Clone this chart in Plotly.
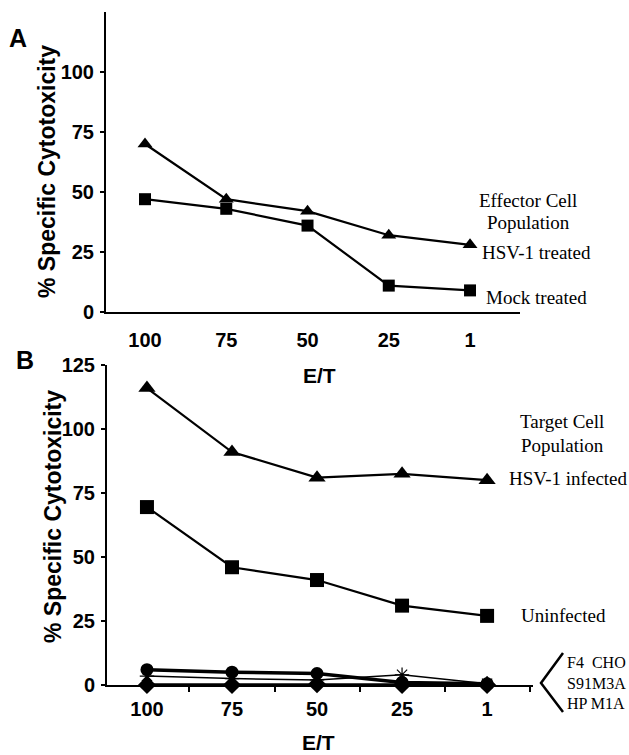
import plotly.graph_objects as go

W, H = 629, 755

et_labels = ["100", "75", "50", "25", "1"]

# Panel A: effector cell population
a_hsv_treated = [70, 47, 42, 32, 28]
a_mock_treated = [47, 43, 36, 11, 9]

# Panel B: target cell population
b_hsv_infected = [116, 91, 81, 82.5, 80]
b_uninfected = [69.5, 46, 41, 31, 27]
b_f4_cho = [6, 5, 4.5, 1, 0.5]
b_s91m3a = [3.5, 2.5, 2, 4, 0.5]
b_hp_m1a = [0, 0, 0.3, 0, 0]

a_yticks = [0, 25, 50, 75, 100]
b_yticks = [0, 25, 50, 75, 100, 125]


def px(x):
    return x / W


def py(y):
    return 1 - y / H


fig = go.Figure()

line_style = dict(color="black", width=2.2)

fig.add_trace(go.Scatter(x=et_labels, y=a_hsv_treated, mode="lines+markers",
                         line=line_style, cliponaxis=False,
                         marker=dict(symbol="triangle-up", size=13, color="black"),
                         xaxis="x", yaxis="y", showlegend=False))
fig.add_trace(go.Scatter(x=et_labels, y=a_mock_treated, mode="lines+markers",
                         line=line_style, cliponaxis=False,
                         marker=dict(symbol="square", size=12, color="black"),
                         xaxis="x", yaxis="y", showlegend=False))

fig.add_trace(go.Scatter(x=et_labels, y=b_hsv_infected, mode="lines+markers",
                         line=line_style, cliponaxis=False,
                         marker=dict(symbol="triangle-up", size=15, color="black"),
                         xaxis="x2", yaxis="y2", showlegend=False))
fig.add_trace(go.Scatter(x=et_labels, y=b_uninfected, mode="lines+markers",
                         line=line_style, cliponaxis=False,
                         marker=dict(symbol="square", size=14, color="black"),
                         xaxis="x2", yaxis="y2", showlegend=False))
fig.add_trace(go.Scatter(x=et_labels, y=b_f4_cho, mode="lines+markers",
                         line=dict(color="black", width=3.5), cliponaxis=False,
                         marker=dict(symbol="circle", size=13, color="black"),
                         xaxis="x2", yaxis="y2", showlegend=False))
fig.add_trace(go.Scatter(x=et_labels, y=b_s91m3a, mode="lines+markers",
                         line=dict(color="black", width=1.5), cliponaxis=False,
                         marker=dict(symbol="asterisk-open", size=12,
                                     line=dict(color="black", width=1.2)),
                         xaxis="x2", yaxis="y2", showlegend=False))
fig.add_trace(go.Scatter(x=et_labels, y=b_hp_m1a, mode="lines+markers",
                         line=dict(color="black", width=3.5), cliponaxis=False,
                         marker=dict(symbol="diamond", size=14, color="black"),
                         xaxis="x2", yaxis="y2", showlegend=False))

tick_font = dict(family="Liberation Sans, Arial", size=20, color="black", weight="bold")
title_font = dict(family="Liberation Sans, Arial", size=23, color="black", weight="bold")
et_font = dict(family="Liberation Sans, Arial", size=21, color="black", weight="bold")
serif = dict(family="Liberation Serif, Times New Roman", size=19, color="black")
small_serif = dict(family="Liberation Serif, Times New Roman", size=16, color="black")

common = dict(showline=True, linecolor="black", linewidth=2, showgrid=False,
              zeroline=False, automargin=False, fixedrange=True)

fig.update_layout(
    template="none",
    width=W, height=H, autosize=False,
    margin=dict(l=0, r=0, t=0, b=0, pad=0),
    paper_bgcolor="white", plot_bgcolor="white",
    xaxis=dict(domain=[px(106), px(520)], anchor="y", type="category",
               categoryorder="array", categoryarray=et_labels,
               range=[-0.48, 4.615], ticks="", tickfont=tick_font,
               ticklabelstandoff=9, **common),
    yaxis=dict(domain=[py(312), py(12)], anchor="x", range=[0, 125],
               tickvals=a_yticks, ticks="outside", ticklen=4,
               tickwidth=1.5, tickcolor="black", tickfont=tick_font,
               ticklabelstandoff=2, **common),
    xaxis2=dict(domain=[px(107), px(533)], anchor="y2", type="category",
                categoryorder="array", categoryarray=et_labels,
                range=[-0.47, 4.54], ticks="outside", ticklen=5,
                tickwidth=1.5, tickcolor="black", tickson="boundaries",
                tickfont=tick_font, ticklabelstandoff=5, **common),
    yaxis2=dict(domain=[py(685), py(365)], anchor="x2", range=[0, 125],
                tickvals=b_yticks, ticks="outside", ticklen=4,
                tickwidth=1.5, tickcolor="black", tickfont=tick_font,
                ticklabelstandoff=2, **common),
)

ann = []


def add(text, x, y, font, xanchor="center", yanchor="middle", textangle=0):
    ann.append(dict(text=text, x=px(x), y=py(y), xref="paper", yref="paper",
                    showarrow=False, font=font, xanchor=xanchor, yanchor=yanchor,
                    textangle=textangle))


add("% Specific Cytotoxicity", 47, 172, title_font, textangle=-90)
add("% Specific Cytotoxicity", 53, 517, title_font, textangle=-90)
add("E/T", 319, 376, et_font)
add("E/T", 318, 742, et_font)
add("A", 18, 38, dict(family="Liberation Sans, Arial", size=25, color="black", weight="bold"))
add("B", 25, 360, dict(family="Liberation Sans, Arial", size=25, color="black", weight="bold"))

add("Effector Cell", 528, 200, serif)
add("Population", 528, 223, serif)
add("HSV-1 treated", 480, 252, serif, xanchor="left")
add("Mock treated", 484, 298, serif, xanchor="left")

add("Target Cell", 562, 421, serif)
add("Population", 562, 445, serif)
add("HSV-1 infected", 507, 478, serif, xanchor="left")
add("Uninfected", 519, 615, serif, xanchor="left")

add("F4  CHO", 565, 662, small_serif, xanchor="left")
add("S91M3A", 565, 683, small_serif, xanchor="left")
add("HP M1A", 565, 703, small_serif, xanchor="left")

fig.update_layout(annotations=ann)

fig.add_shape(type="path", xref="paper", yref="paper",
              path=f"M {px(563)} {py(653)} L {px(541)} {py(683)} L {px(563)} {py(712)}",
              line=dict(color="black", width=2.5))

fig.write_html("out.html", config={"displayModeBar": False},
               post_script="document.body.style.margin='0';")
